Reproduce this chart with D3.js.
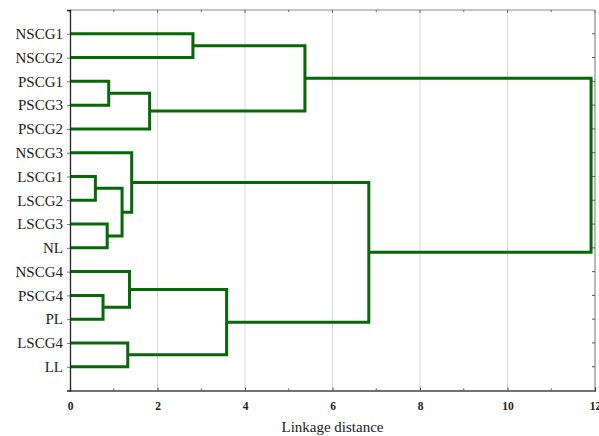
<!DOCTYPE html>
<html>
<head>
<meta charset="utf-8">
<script src="https://cdn.jsdelivr.net/npm/d3@7"></script>
<style>
  body { margin: 0; background: #fff; }
  svg { display: block; }
  text { font-family: "Liberation Serif", "Times New Roman", serif; fill: #222; }
</style>
</head>
<body>
<svg id="chart" width="599" height="436"></svg>
<script>
// leaf order, top to bottom
var leaves = ["NSCG1","NSCG2","PSCG1","PSCG3","PSCG2","NSCG3","LSCG1","LSCG2","LSCG3","NL","NSCG4","PSCG4","PL","LSCG4","LL"];

// merges: [left child, right child, linkage distance]; merge i is named "m"+i
var merges = [
    ["NSCG1","NSCG2",2.81],
    ["PSCG1","PSCG3",0.885],
    ["m1","PSCG2",1.82],
    ["m0","m2",5.37],
    ["LSCG1","LSCG2",0.58],
    ["LSCG3","NL",0.85],
    ["m4","m5",1.19],
    ["NSCG3","m6",1.41],
    ["PSCG4","PL",0.755],
    ["NSCG4","m8",1.36],
    ["LSCG4","LL",1.32],
    ["m9","m10",3.58],
    ["m7","m11",6.83],
    ["m3","m12",11.91]
];

var major_ticks = [0,2,4,6,8,10,12];
var minor_ticks = [1,3,5,7,9,11];
var x_title = "Linkage distance";

var margins = {left:70, right:4, top:10, bottom:45.5},
    width = 599, height = 436;

var svg = d3.select("#chart");

var x = d3.scaleLinear().domain([0,12]).range([margins.left, width - margins.right]);
var y = d3.scalePoint().domain(leaves).range([margins.top, height - margins.bottom]).padding(1);

var x0 = x.range()[0], x1 = x.range()[1], y0 = y.range()[0], y1 = y.range()[1];

//gridlines
svg.append("g").selectAll("line")
    .data(major_ticks.filter(d => d > 0 && d < 12))
    .join("line")
    .attr("x1", d => x(d)).attr("x2", d => x(d))
    .attr("y1", y0).attr("y2", y1)
    .attr("stroke", "#d9d9d9").attr("stroke-width", 1);

//node positions
var nodes = {};
leaves.forEach(function(d){ nodes[d] = {h:0, y:y(d)}; });
merges.forEach(function(m, i){
    var a = nodes[m[0]], b = nodes[m[1]];
    nodes["m" + i] = {h:m[2], y:(a.y + b.y) / 2, a:a, b:b};
});

svg.append("g").selectAll("path")
    .data(merges.map((m, i) => nodes["m" + i]))
    .join("path")
    .attr("fill", "none")
    .attr("stroke", "#076807")
    .attr("stroke-width", 3)
    .attr("stroke-linejoin", "miter")
    .attr("d", d => "M" + x(d.a.h) + "," + d.a.y + "H" + x(d.h) + "V" + d.b.y + "H" + x(d.b.h));

//frame: top + right grey, left + bottom dark
svg.append("line").attr("x1", x0).attr("x2", x1).attr("y1", y0).attr("y2", y0).attr("stroke", "#8c8c8c").attr("stroke-width", 1.2);
svg.append("line").attr("x1", x1).attr("x2", x1).attr("y1", y0).attr("y2", y1).attr("stroke", "#8c8c8c").attr("stroke-width", 1.2);

//bottom axis
var bottom = svg.append("g").attr("transform", "translate(0," + y1 + ")")
    .call(d3.axisBottom(x).tickValues(major_ticks).tickSize(-3).tickPadding(11).tickFormat(d3.format("d")));
bottom.select(".domain").attr("stroke", "#444").attr("stroke-width", 1.3);
bottom.selectAll(".tick line").attr("stroke", "#444");
bottom.selectAll("text").style("font-size", "11.5px").style("font-weight", "bold").attr("fill", "#333");

svg.append("g").selectAll("line")
    .data(minor_ticks)
    .join("line")
    .attr("x1", d => x(d)).attr("x2", d => x(d))
    .attr("y1", y1).attr("y2", y1 - 2)
    .attr("stroke", "#555");

//top ticks
svg.append("g").selectAll("line")
    .data(major_ticks.concat(minor_ticks))
    .join("line")
    .attr("x1", d => x(d)).attr("x2", d => x(d))
    .attr("y1", y0).attr("y2", d => y0 + (d % 2 === 0 ? 3 : 2))
    .attr("stroke", "#666");

//right ticks
svg.append("g").selectAll("line")
    .data(leaves)
    .join("line")
    .attr("x1", x1).attr("x2", x1 - 3)
    .attr("y1", d => y(d)).attr("y2", d => y(d))
    .attr("stroke", "#555");

//left axis
var left = svg.append("g").attr("transform", "translate(" + x0 + ",0)")
    .call(d3.axisLeft(y).tickSize(3).tickPadding(4));
left.select(".domain").attr("stroke", "#222").attr("stroke-width", 1.3);
left.selectAll(".tick line").attr("stroke", "#777");
left.selectAll("text").style("font-size", "15px").attr("fill", "#222");

svg.append("text")
    .attr("x", x(6))
    .attr("y", 432)
    .attr("text-anchor", "middle")
    .style("font-size", "15px")
    .text(x_title);
</script>
</body>
</html>
